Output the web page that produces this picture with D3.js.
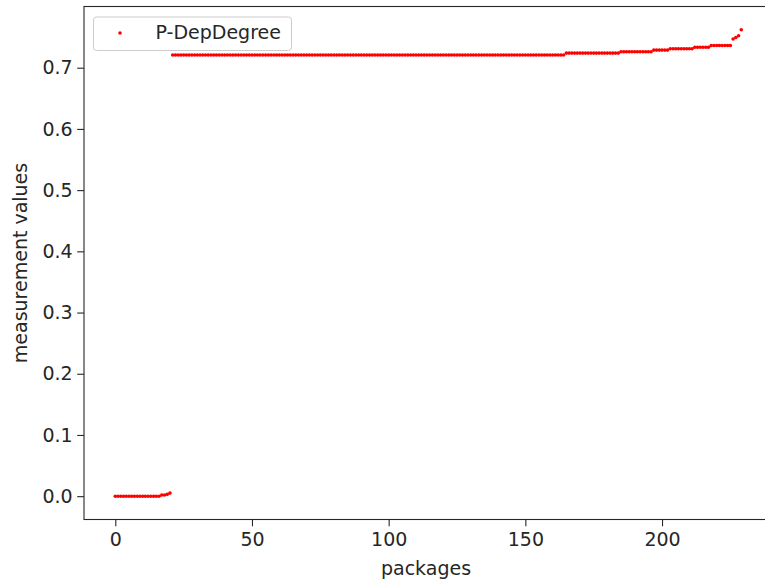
<!DOCTYPE html>
<html>
<head>
<meta charset="utf-8">
<script src="https://cdn.jsdelivr.net/npm/d3@7"></script>
<style>
body { margin: 0; background: #fff; }
svg { display: block; font-family: "DejaVu Sans", sans-serif; }
</style>
</head>
<body>
<svg id="chart" width="765" height="583"></svg>
<script>
const lowValues = [0,0,0,0,0,0,0,0,0,0,0,0,0,0,0,0,0,0.002,0.002,0.003,0.005];
const highValues = [
  0.7207,0.7207,0.7207,0.7207,0.7207,0.7207,0.7207,0.7207,0.7207,0.7207,0.7207,0.7207,
  0.7207,0.7207,0.7207,0.7207,0.7207,0.7207,0.7207,0.7207,0.7207,0.7207,0.7207,0.7207,
  0.7207,0.7207,0.7207,0.7207,0.7207,0.7207,0.7207,0.7207,0.7207,0.7207,0.7207,0.7207,
  0.7207,0.7207,0.7207,0.7207,0.7207,0.7207,0.7207,0.7207,0.7207,0.7207,0.7207,0.7207,
  0.7207,0.7207,0.7207,0.7207,0.7207,0.7207,0.7207,0.7207,0.7207,0.7207,0.7207,0.7207,
  0.7207,0.7207,0.7207,0.7207,0.7207,0.7207,0.7207,0.7207,0.7207,0.7207,0.7207,0.7207,
  0.7207,0.7207,0.7207,0.7207,0.7207,0.7207,0.7207,0.7207,0.7207,0.7207,0.7207,0.7207,
  0.7207,0.7207,0.7207,0.7207,0.7207,0.7207,0.7207,0.7207,0.7207,0.7207,0.7207,0.7207,
  0.7207,0.7207,0.7207,0.7207,0.7207,0.7207,0.7207,0.7207,0.7207,0.7207,0.7207,0.7207,
  0.7207,0.7207,0.7207,0.7207,0.7207,0.7207,0.7207,0.7207,0.7207,0.7207,0.7207,0.7207,
  0.7207,0.7207,0.7207,0.7207,0.7207,0.7207,0.7207,0.7207,0.7207,0.7207,0.7207,0.7207,
  0.7207,0.7207,0.7207,0.7207,0.7207,0.7207,0.7207,0.7207,0.7207,0.7207,0.7207,0.7207,
  0.7239,0.7239,0.7239,0.7239,0.7239,0.7239,0.7239,0.7239,0.7239,0.7239,
  0.7239,0.7239,0.7239,0.7239,0.7239,0.7239,0.7239,0.7239,0.7239,0.7239,
  0.7261,0.7261,0.7261,0.7261,0.7261,0.7261,0.7261,0.7261,0.7261,0.7261,0.7261,0.7261,
  0.7288,0.7288,0.7288,0.7288,0.7288,0.7288,
  0.7310,0.7310,0.7310,0.7310,0.7310,0.7310,0.7310,0.7310,0.7310,
  0.7335,0.7335,0.7335,0.7335,0.7335,0.7335,
  0.7364,0.7364,0.7364,0.7364,0.7364,0.7364,0.7364,0.7364,
  0.7468,0.7494,0.7522,0.7619
];
const values = lowValues.concat(highValues);
const xTicks = [0, 50, 100, 150, 200];
const yTicks = [0.0, 0.1, 0.2, 0.3, 0.4, 0.5, 0.6, 0.7];
const seriesName = "P-DepDegree";
const xLabel = "packages";
const yLabel = "measurement values";

const svg = d3.select("#chart");
const n = values.length;
const xMin = 0, xMax = n - 1;
const xPad = (xMax - xMin) * 0.05;
const yMax = d3.max(values), yMin = d3.min(values);
const yPad = (yMax - yMin) * 0.05;

const x = d3.scaleLinear().domain([xMin - xPad, xMax + xPad]).range([84, 772.6]);
const y = d3.scaleLinear().domain([yMin - yPad, yMax + yPad]).range([519.5, 6.5]);

const axisColor = "#262626";
const fontSize = "19px";

// points
svg.append("g").selectAll("circle").data(values).join("circle")
  .attr("cx", (d, i) => x(i))
  .attr("cy", d => y(d))
  .attr("r", 1.8)
  .attr("fill", "#ff0000");

// axes
const xAxis = svg.append("g").attr("transform", `translate(0,${y.range()[0]})`)
  .call(d3.axisBottom(x).tickValues(xTicks).tickFormat(d3.format("d")).tickSize(6.8).tickPadding(6.5));
const yAxis = svg.append("g").attr("transform", `translate(${x.range()[0]},0)`)
  .call(d3.axisLeft(y).tickValues(yTicks).tickFormat(d3.format(".1f")).tickSize(6.8).tickPadding(4.5));
[xAxis, yAxis].forEach(g => {
  g.select(".domain").remove();
  g.selectAll(".tick line").attr("stroke", axisColor).attr("stroke-width", 1.1);
  g.selectAll(".tick text").attr("fill", axisColor).style("font-size", fontSize).style("font-family", "DejaVu Sans");
});

// frame (spines)
svg.append("rect")
  .attr("x", x.range()[0]).attr("y", y.range()[1])
  .attr("width", x.range()[1] - x.range()[0])
  .attr("height", y.range()[0] - y.range()[1])
  .attr("fill", "none").attr("stroke", axisColor).attr("stroke-width", 1.1);

// axis labels
svg.append("text").attr("x", 426).attr("y", 575)
  .attr("text-anchor", "middle").attr("fill", axisColor).style("font-size", fontSize)
  .text(xLabel);
svg.append("text").attr("transform", `translate(27,263) rotate(-90)`)
  .attr("text-anchor", "middle").attr("fill", axisColor).style("font-size", fontSize)
  .text(yLabel);

// legend
const lg = svg.append("g");
lg.append("rect").attr("x", 93.5).attr("y", 17).attr("width", 198).attr("height", 33.5)
  .attr("rx", 3).attr("fill", "#fff").attr("fill-opacity", 0.8)
  .attr("stroke", "#cccccc").attr("stroke-width", 1);
lg.append("circle").attr("cx", 120).attr("cy", 33).attr("r", 1.8).attr("fill", "#ff0000");
lg.append("text").attr("x", 155.5).attr("y", 38.5).attr("fill", axisColor)
  .style("font-size", fontSize).text(seriesName);
</script>
</body>
</html>
